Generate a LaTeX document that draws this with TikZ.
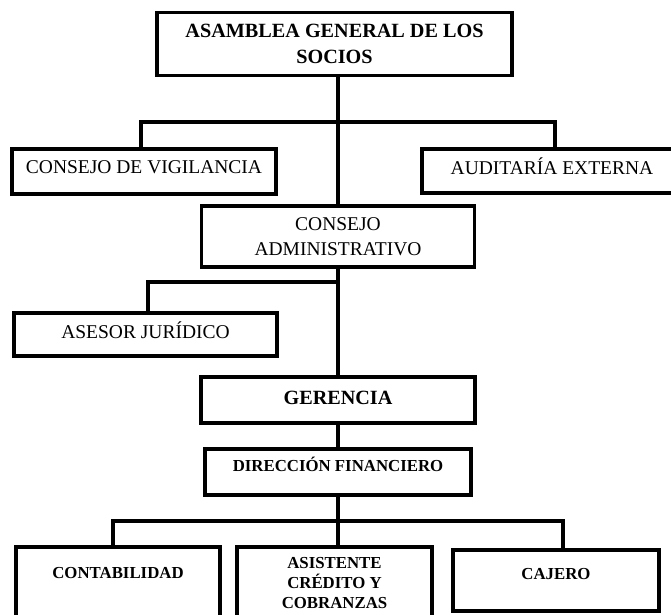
\documentclass[tikz,border=0pt]{standalone}
\usepackage{fontspec}
\setmainfont{Liberation Serif}

\begin{document}
\begin{tikzpicture}[x=1pt, y=-1pt,
	box/.style={rectangle, draw, line width=3.6pt, align=center, inner sep=0pt},
	regfont/.style={font=\fontsize{19.5}{25}\selectfont},
	topfont/.style={font=\fontsize{20.2}{26}\selectfont\bfseries},
	lowfont/.style={font=\fontsize{16.8}{20}\selectfont\bfseries},
	link/.style={line width=3.6pt}]
					\clip (0,0) rectangle (671,614);
					
					% Boxes
					\node[box, topfont, minimum width=355pt, minimum height=63pt] (asamblea) at (334.5,44) {ASAMBLEA GENERAL DE LOS\\SOCIOS};
					\node[box, regfont, minimum width=264pt, minimum height=45pt, text height=13pt, text depth=9pt] (vigilancia) at (144,171.5) {CONSEJO DE VIGILANCIA};
					\node[box, regfont, minimum width=260pt, minimum height=44pt, text height=13pt, text depth=6pt] (auditoria) at (552,171) {AUDITARÍA EXTERNA};
					\node[box, regfont, minimum width=273pt, minimum height=61pt] (admin) at (338,236.5) {CONSEJO\\ADMINISTRATIVO};
					\node[box, regfont, minimum width=263pt, minimum height=43pt, text height=13pt, text depth=6pt] (asesor) at (145.5,334.5) {ASESOR JURÍDICO};
					\node[box, topfont, minimum width=274pt, minimum height=46pt, text height=13pt, text depth=5pt] (gerencia) at (338,400) {GERENCIA};
					\node[box, lowfont, minimum width=266pt, minimum height=46pt, text height=11pt, text depth=13pt] (direccion) at (338,472) {DIRECCIÓN FINANCIERO};
					\node[box, lowfont, minimum width=204pt, minimum height=73pt, text height=11pt, text depth=21pt] (conta) at (118,583.5) {CONTABILIDAD};
					\node[box, lowfont, minimum width=195pt, minimum height=73pt] (asistente) at (334.5,583.5) {ASISTENTE\\CRÉDITO Y\\COBRANZAS};
					\node[box, lowfont, minimum width=206pt, minimum height=61pt, text height=11pt, text depth=14pt] (cajero) at (556,580.5) {CAJERO};
					
					% Junctions
					\coordinate (j1) at (338,122);
					\coordinate (j2) at (338,282);
					\coordinate (j3) at (338,521);
					
					% Lines
					\draw[link] (admin.north) -- (admin.north |- asamblea.south);
					\draw[link] ([xshift=-3pt]vigilancia.north) |- (j1) -| ([xshift=3pt]auditoria.north);
					\draw[link] ([xshift=2.5pt]asesor.north) |- (j2);
					\draw[link] (admin.south) -- (gerencia.north);
					\draw[link] (gerencia.south) -- (direccion.north);
					\draw[link] (direccion.south) -- (j3) -- (j3 |- asistente.north);
					\draw[link] ([xshift=-5pt]conta.north) |- (j3) -| ([xshift=7pt]cajero.north);
\end{tikzpicture}
\end{document}
